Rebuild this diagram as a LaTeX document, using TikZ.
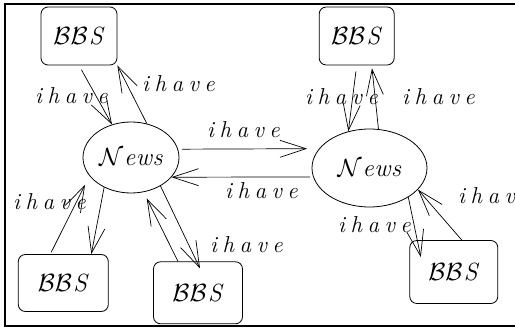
\documentclass[tikz,border=0pt]{standalone}
\usetikzlibrary{arrows.meta,shapes.geometric}
\newcommand\ihv{i\kern5.5pt h\kern5.5pt a\kern5.5pt v\kern5.5pt e}
\newcommand\bbsT{{\fontsize{24.88}{28}\selectfont$\mathcal{B}\mathcal{B}\mkern1mu$\textit{S}}}
\newcommand\newsT{{\fontsize{24.88}{28}\selectfont$\mathcal{N}$\kern1pt\textit{e\kern0.5pt w\kern0.5pt s}}}
\begin{document}
\begin{tikzpicture}[x=1pt,y=-1pt,
  box/.style={draw, rounded corners=7pt, line width=0.8pt, inner sep=0pt},
  oval/.style={draw, ellipse, line width=0.8pt, inner sep=0pt},
  lab/.style={inner sep=0pt, anchor=base west, font=\fontsize{23}{26}\selectfont\itshape},
  arr/.style={line width=0.7pt, -{Straight Barb[length=26pt,width=17pt]}},
  frame/.style={line width=1.2pt}]
\useasboundingbox (0,0) rectangle (515,329);
\draw[frame] (515,4) -- (5,4) -- (5,326) -- (515,326);
% nodes
\node[box, minimum width=76pt, minimum height=58pt] (b1) at (79,36) {\bbsT};
\node[box, minimum width=75pt, minimum height=58pt] (b2) at (356.7,36) {\bbsT};
\node[box, minimum width=90pt, minimum height=57pt] (b3) at (63.3,283) {\bbsT};
\node[box, minimum width=89pt, minimum height=62pt] (b4) at (198,292.8) {\bbsT};
\node[box, minimum width=88pt, minimum height=63pt] (b5) at (453.8,272) {\bbsT};
\node[oval, minimum width=96pt, minimum height=71pt] (n1) at (131,157.5) {\newsT};
\node[oval, minimum width=115pt, minimum height=78pt] (n2) at (369.5,168) {\newsT};
% connectors
\draw[arr, shorten <=5pt] (b1.south) -- (n1.120);
\draw[arr] (n1.65) -- (b1.south east);
\draw[arr, shorten <=6pt] (b2.south) -- (n2.120);
\draw[arr, shorten >=3pt] (n2.77) -- ([xshift=15pt]b2.south);
\draw[arr, shorten <=4pt, shorten >=12pt] (n1.10) -- (n2.159);
\draw[arr, shorten <=3pt] (n2.189) -- (n1.-26);
\draw[arr, shorten <=2pt, shorten >=10pt] ([xshift=-13pt]b3.north) -- (n1.204);
\draw[arr] (n1.228) -- ([xshift=28pt]b3.north);
\draw[arr, shorten >=7pt] ([xshift=-20pt]b4.north) -- (n1.-70);
\draw[arr] (n1.-44) -- ([xshift=2pt,yshift=-7pt]b4.north);
\draw[arr] (n2.-37.5) -- ([xshift=-33pt,yshift=-17pt]b5.north);
\draw[arr] ([xshift=8pt]b5.north) -- (n2.-24);
% labels
\node[lab] (l1) at (35,103) {\ihv};
\node[lab] (l2) at (142,92) {\ihv};
\node[lab] (l3) at (207,138) {\ihv};
\node[lab] (l4) at (225,198) {\ihv};
\node[lab] (l5) at (13,210) {\ihv};
\node[lab] (l6) at (210,252) {\ihv};
\node[lab] (l7) at (305,105) {\ihv};
\node[lab] (l8) at (402,105) {\ihv};
\node[lab] (l9) at (338,233) {\ihv};
\node[lab] (l10) at (458,204) {i\kern5.5pt h\kern5.5pt a\kern5.5pt v};
\end{tikzpicture}
\end{document}
